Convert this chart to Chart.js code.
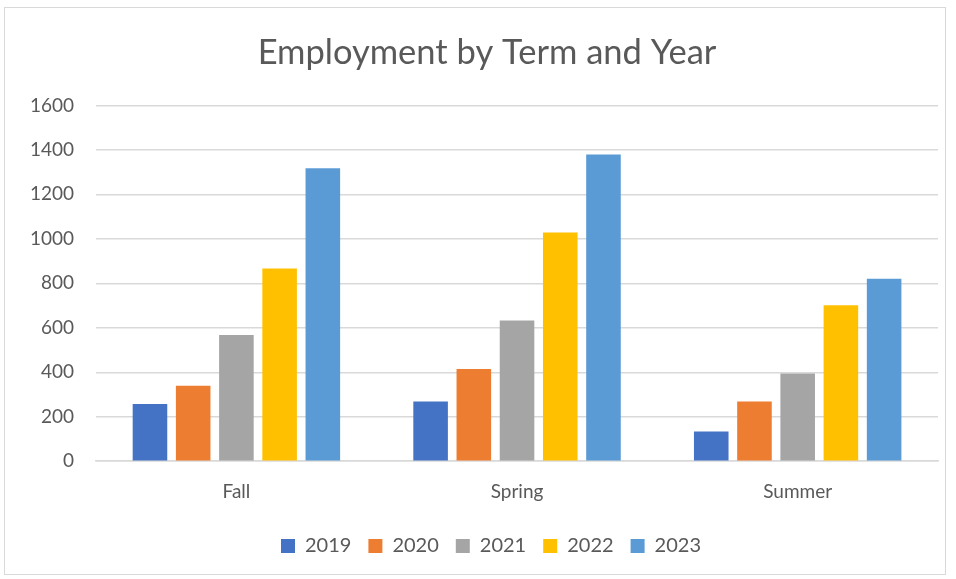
<!DOCTYPE html>
<html>
<head>
<meta charset="utf-8">
<script src="https://cdn.jsdelivr.net/npm/chart.js@4"></script>
<style>
  html, body { margin: 0; padding: 0; background: #fff; }
  #frame {
    position: absolute; left: 4px; top: 7px; width: 942px; height: 568px;
    border: 1px solid #d9d9d9; box-sizing: border-box;
  }
  #wrap { position: absolute; left: 0; top: 0; width: 956px; height: 579px; }
</style>
</head>
<body>
<div id="frame"></div>
<div id="wrap"><canvas id="chart"></canvas></div>
<script>
const terms = ["Fall", "Spring", "Summer"];
const years = ["2019", "2020", "2021", "2022", "2023"];
const values2019 = [257, 269, 134];
const values2020 = [339, 415, 269];
const values2021 = [567, 633, 394];
const values2022 = [866, 1028, 701];
const values2023 = [1317, 1379, 820];
const colors = ["#4472C4", "#ED7D31", "#A5A5A5", "#FFC000", "#5B9BD5"];

const seriesValues = [values2019, values2020, values2021, values2022, values2023];

const datasets = years.map((y, i) => ({
  label: y,
  data: seriesValues[i],
  backgroundColor: colors[i],
  borderWidth: 0,
  categoryPercentage: 0.77,
  barPercentage: 0.8,
}));

const textColor = "#595959";
const fontFamily = "Lato, 'Open Sans', sans-serif";

// title and legend are centred on the plot in the original, not on the whole canvas
const nudgeBlocks = {
  id: "nudgeBlocks",
  afterLayout(chart) {
    const t = chart.titleBlock;
    t.left += 14; t.right += 14;
    const l = chart.legend;
    l.left += 18; l.right += 18;
    l.top += 5; l.bottom += 5;
  },
};

new Chart(document.getElementById("chart"), {
  type: "bar",
  data: { labels: terms, datasets: datasets },
  plugins: [nudgeBlocks],
  options: {
    responsive: true,
    maintainAspectRatio: false,
    animation: false,
    layout: { padding: { left: 8, right: 18, top: 12, bottom: 18 } },
    plugins: {
      title: {
        display: true,
        text: "Employment by Term and Year",
        color: textColor,
        font: { family: fontFamily, size: 34.5, weight: "normal" },
        padding: { top: 20, bottom: 32 },
      },
      legend: {
        position: "bottom",
        labels: {
          color: textColor,
          font: { family: fontFamily, size: 20 },
          boxWidth: 14,
          boxHeight: 14,
          padding: 17,
        },
      },
      tooltip: { enabled: false },
    },
    scales: {
      x: {
        grid: { display: false },
        border: { display: true, color: "#d9d9d9", width: 1.5 },
        ticks: { color: textColor, font: { family: fontFamily, size: 19 }, padding: 11 },
      },
      y: {
        min: 0,
        max: 1600,
        border: { display: false },
        grid: { color: "#d9d9d9", lineWidth: 1.5, drawTicks: false },
        ticks: {
          stepSize: 200,
          color: textColor,
          font: { family: fontFamily, size: 19 },
          padding: 22,
          callback: (v) => String(v),
        },
      },
    },
  },
});
</script>
</body>
</html>
